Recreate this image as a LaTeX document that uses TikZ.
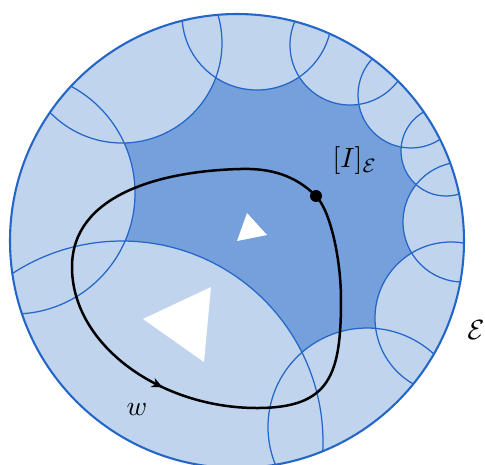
\documentclass[tikz,border=0pt]{standalone}
\usetikzlibrary{decorations.markings,arrows.meta}
\definecolor{lightfill}{RGB}{192,212,238}
\definecolor{darkfill}{RGB}{117,160,219}
\definecolor{edgeblue}{RGB}{36,102,200}
\begin{document}
\begin{tikzpicture}[x=0.36pt,y=-0.36pt,
  horofill/.style={fill=lightfill},
  horoedge/.style={draw=edgeblue,line width=0.45pt},
  loopline/.style={line width=0.9pt,line join=round},
  midarrow/.style={postaction={decorate},decoration={markings,mark=at position #1 with {\arrow[black]{Stealth[length=4pt,width=3.6pt,inset=1.3pt]}}}}]
\useasboundingbox (0,0) rectangle (485,464);
\coordinate (O) at (237,241);
\fill[darkfill] (O) circle[radius=227];
\begin{scope}
  \clip (O) circle[radius=227];
  \foreach \cx/\cy/\r in {14/193/121, 122/43/100, 257/15/75, 350/45/60, 411/95/53, 446/151/45, 463/222/60, 451/318/76, 367/427/99, 122/442/201}{
    \fill[horofill] (\cx,\cy) circle[radius=\r];
  }
  \foreach \cx/\cy/\r in {14/193/121, 122/43/100, 257/15/75, 350/45/60, 411/95/53, 446/151/45, 463/222/60, 451/318/76, 367/427/99, 122/442/201}{
    \draw[horoedge] (\cx,\cy) circle[radius=\r];
  }
\end{scope}
\draw[edgeblue,line width=0.75pt] (O) circle[radius=227];
\fill[white] (247,213) -- (237,241) -- (267,235) -- cycle;
\fill[white] (211,287) -- (143,319) -- (204,362) -- cycle;
\coordinate (a) at (316,196);
\coordinate (b) at (240,169);
\coordinate (c) at (72,267);
\coordinate (d) at (257,408);
\coordinate (e) at (341,300);
\draw[loopline] (a) .. controls (295,175) and (270,168) .. (b)
  .. controls (160,171) and (72,195) .. (c)
  .. controls (72,345) and (160,408) .. (d)
  .. controls (330,408) and (341,375) .. (e)
  .. controls (341,258) and (330,210) .. (a) -- cycle;
\path[midarrow=0.62] (c) .. controls (72,345) and (160,408) .. (d);
\node[circle,fill=black,inner sep=0pt,minimum size=4.3pt] (p) at (a) {};
\node (lab) at (355,161) {$[I]_{\mathcal{E}}$};
\node (E) at (476,330) {$\mathcal{E}$};
\node (w) at (137,410) {$w$};
\end{tikzpicture}
\end{document}
